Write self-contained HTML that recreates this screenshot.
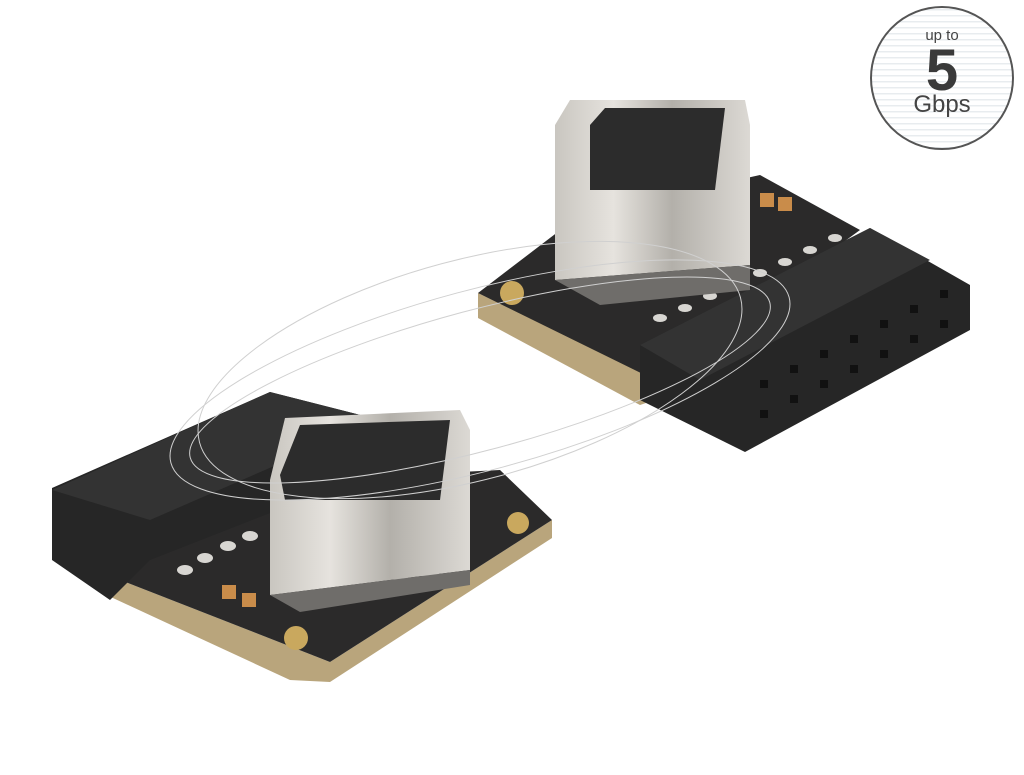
<!DOCTYPE html>
<html><head><meta charset="utf-8"><style>
html,body{margin:0;padding:0;background:#fff;}
svg{display:block}
</style></head><body>
<svg width="1024" height="775" viewBox="0 0 1024 775" xmlns="http://www.w3.org/2000/svg">
<defs>
<linearGradient id="met" x1="0" x2="1" y1="0" y2="0">
<stop offset="0" stop-color="#c9c6c0"/><stop offset="0.3" stop-color="#e6e3de"/><stop offset="0.6" stop-color="#b3b0aa"/><stop offset="1" stop-color="#dcd9d4"/></linearGradient>
<pattern id="lines" width="10" height="6" patternUnits="userSpaceOnUse"><rect width="10" height="6" fill="#fff"/><rect y="3" width="10" height="1.5" fill="#e8ecef"/></pattern>
</defs>
<circle cx="942" cy="78" r="71" fill="url(#lines)" stroke="#555" stroke-width="2"/>
<text x="942" y="40" font-family="Liberation Sans, sans-serif" font-size="15" fill="#444" text-anchor="middle">up to</text>
<text x="942" y="90" font-family="Liberation Sans, sans-serif" font-size="58" font-weight="bold" fill="#3a3a3a" text-anchor="middle">5</text>
<text x="942" y="112" font-family="Liberation Sans, sans-serif" font-size="24" fill="#444" text-anchor="middle">Gbps</text>

<polygon points="478,293 478,318 640,405 655,400 655,378" fill="#b9a57c"/>
<polygon points="478,293 580,215 760,175 860,230 655,380" fill="#2b2a2a"/>
<circle cx="512" cy="293" r="12" fill="#c9a85e"/>
<polygon points="640,345 870,228 970,285 970,330 745,452 640,400" fill="#262626"/>
<polygon points="640,345 870,228 930,260 700,380" fill="#333"/>
<g fill="#111">
<rect x="760" y="380" width="8" height="8"/><rect x="790" y="365" width="8" height="8"/><rect x="820" y="350" width="8" height="8"/><rect x="850" y="335" width="8" height="8"/><rect x="880" y="320" width="8" height="8"/><rect x="910" y="305" width="8" height="8"/><rect x="940" y="290" width="8" height="8"/>
<rect x="760" y="410" width="8" height="8"/><rect x="790" y="395" width="8" height="8"/><rect x="820" y="380" width="8" height="8"/><rect x="850" y="365" width="8" height="8"/><rect x="880" y="350" width="8" height="8"/><rect x="910" y="335" width="8" height="8"/><rect x="940" y="320" width="8" height="8"/>
</g>
<g fill="#d8d6d2">
<ellipse cx="660" cy="318" rx="7" ry="4"/><ellipse cx="685" cy="308" rx="7" ry="4"/><ellipse cx="710" cy="296" rx="7" ry="4"/><ellipse cx="735" cy="285" rx="7" ry="4"/><ellipse cx="760" cy="273" rx="7" ry="4"/><ellipse cx="785" cy="262" rx="7" ry="4"/><ellipse cx="810" cy="250" rx="7" ry="4"/><ellipse cx="835" cy="238" rx="7" ry="4"/>
</g>
<rect x="760" y="193" width="14" height="14" fill="#c98c4a"/><rect x="778" y="197" width="14" height="14" fill="#c98c4a"/>
<polygon points="555,125 570,100 745,100 750,125 750,265 555,280" fill="url(#met)"/>
<polygon points="590,125 605,108 725,108 715,190 590,190" fill="#2c2c2c"/>
<polygon points="555,280 750,265 750,290 600,305" fill="#6f6d6a"/>

<polygon points="100,572 100,592 290,680 330,682 552,538 552,520 330,662" fill="#b9a57c"/>
<polygon points="100,572 300,480 500,470 552,520 330,662" fill="#2b2a2a"/>
<circle cx="518" cy="523" r="11" fill="#c9a85e"/>
<circle cx="296" cy="638" r="12" fill="#c9a85e"/>
<polygon points="52,490 52,560 110,600 150,560 380,470 380,420 270,392 52,488" fill="#262626"/>
<polygon points="52,490 270,392 380,420 150,520" fill="#333"/>
<g fill="#d8d6d2">
<ellipse cx="185" cy="570" rx="8" ry="5"/><ellipse cx="205" cy="558" rx="8" ry="5"/><ellipse cx="228" cy="546" rx="8" ry="5"/><ellipse cx="250" cy="536" rx="8" ry="5"/>
<ellipse cx="400" cy="576" rx="9" ry="5"/><ellipse cx="430" cy="574" rx="9" ry="5"/>
</g>
<rect x="222" y="585" width="14" height="14" fill="#c98c4a"/><rect x="242" y="593" width="14" height="14" fill="#c98c4a"/>
<polygon points="270,480 285,418 460,410 470,430 470,570 270,595" fill="url(#met)"/>
<polygon points="280,475 300,425 450,420 440,500 285,500" fill="#2c2c2c"/>
<polygon points="270,595 470,570 470,585 300,612" fill="#6f6d6a"/>

<g fill="none" stroke="#d0d0d0" stroke-width="1">
<ellipse cx="480" cy="380" rx="320" ry="90" transform="rotate(-15 480 380)"/>
<ellipse cx="480" cy="380" rx="300" ry="70" transform="rotate(-15 480 380)"/>
<ellipse cx="470" cy="370" rx="280" ry="110" transform="rotate(-15 470 370)"/>
</g>
</svg>
</body></html>
